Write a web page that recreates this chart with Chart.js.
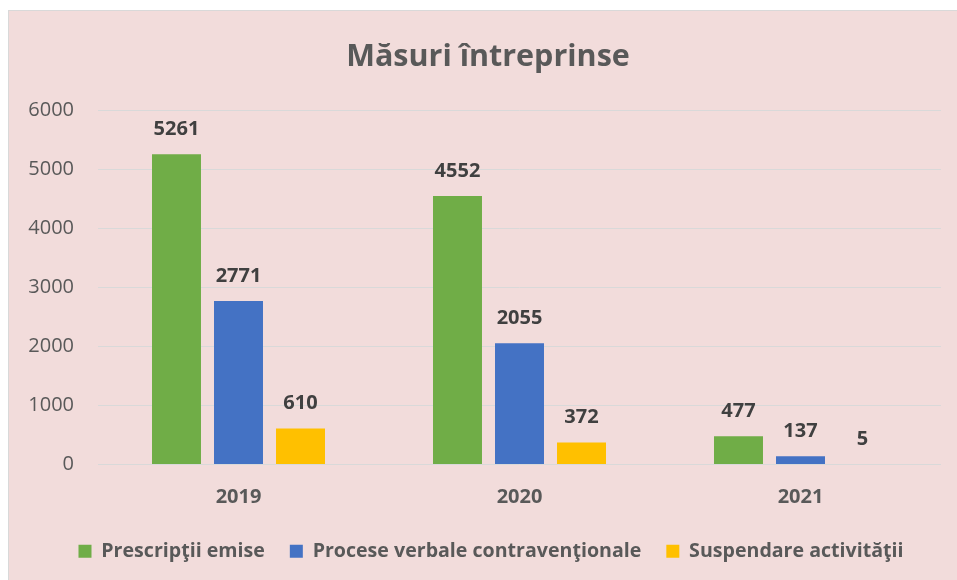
<!DOCTYPE html>
<html>
<head>
<meta charset="utf-8">
<script src="https://cdn.jsdelivr.net/npm/chart.js@4.4.1/dist/chart.umd.min.js"></script>
<style>
  html, body { margin: 0; padding: 0; background: #ffffff; }
  #frame {
    position: absolute; left: 8px; top: 10px; width: 948px; height: 569px;
    background: #f2dcdb; border: 1px solid #d9d9d9; border-right: none; border-bottom: none;
  }
  #c { display: block; }
</style>
</head>
<body>
<div id="frame"><canvas id="c" width="948" height="569"></canvas></div>
<script>
const categories = ["2019", "2020", "2021"];
const prescriptii = [5261, 4552, 477];
const procese = [2771, 2055, 137];
const suspendare = [610, 372, 5];
const seriesNames = ["Prescripţii emise", "Procese verbale contravenţionale", "Suspendare activităţii"];
const yTicks = [0, 1000, 2000, 3000, 4000, 5000, 6000];

const FONT = "'Open Sans', Lato, sans-serif";

const valueLabels = {
  id: 'valueLabels',
  afterDatasetsDraw(chart) {
    const ctx = chart.ctx;
    ctx.save();
    ctx.font = "bold 20px " + FONT;
    ctx.fillStyle = '#404040';
    ctx.textAlign = 'center';
    ctx.textBaseline = 'middle';
    chart.data.datasets.forEach((ds, i) => {
      const meta = chart.getDatasetMeta(i);
      meta.data.forEach((bar, j) => {
        ctx.fillText(String(ds.data[j]), bar.x, bar.y - 25);
      });
    });
    ctx.restore();
  }
};

const shiftBlocks = {
  id: 'shiftBlocks',
  afterLayout(chart) {
    if (chart.titleBlock) { chart.titleBlock.left += 13; chart.titleBlock.right += 13; }
    if (chart.legend) { chart.legend.left += 16; chart.legend.right += 16; }
  }
};

new Chart(document.getElementById('c'), {
  type: 'bar',
  data: {
    labels: categories,
    datasets: [
      { label: seriesNames[0], data: prescriptii, backgroundColor: '#70ad47' },
      { label: seriesNames[1], data: procese, backgroundColor: '#4472c4' },
      { label: seriesNames[2], data: suspendare, backgroundColor: '#ffc000' }
    ]
  },
  options: {
    responsive: false,
    animation: false,
    devicePixelRatio: 1,
    categoryPercentage: 0.662,
    barPercentage: 0.79,
    layout: { padding: { left: 0, right: 16, top: 0, bottom: 9 } },
    plugins: {
      title: {
        display: true,
        text: 'Măsuri întreprinse',
        color: '#595959',
        font: { family: FONT, size: 30.5, weight: 'bold' },
        padding: { top: 28, bottom: 35 }
      },
      legend: {
        position: 'bottom',
        labels: {
          color: '#595959',
          font: { family: FONT, size: 19.6, weight: 'bold' },
          boxWidth: 13,
          boxHeight: 13,
          padding: 25
        }
      },
      tooltip: { enabled: false }
    },
    scales: {
      x: {
        afterFit(scale) { scale.height -= 14; },
        grid: { display: false, drawTicks: false },
        border: { display: false },
        ticks: {
          color: '#595959',
          font: { family: FONT, size: 20, weight: 'bold' },
          padding: 21
        }
      },
      y: {
        min: 0,
        max: 6000,
        afterFit(scale) { scale.width = 89; },
        afterBuildTicks(scale) { scale.ticks = yTicks.map(v => ({ value: v })); },
        grid: { color: '#d9d9d9', lineWidth: 1, drawTicks: false },
        border: { display: false },
        ticks: {
          color: '#595959',
          font: { family: FONT, size: 20 },
          padding: 24,
          callback: (v) => String(v)
        }
      }
    }
  },
  plugins: [valueLabels, shiftBlocks]
});
</script>
</body>
</html>
